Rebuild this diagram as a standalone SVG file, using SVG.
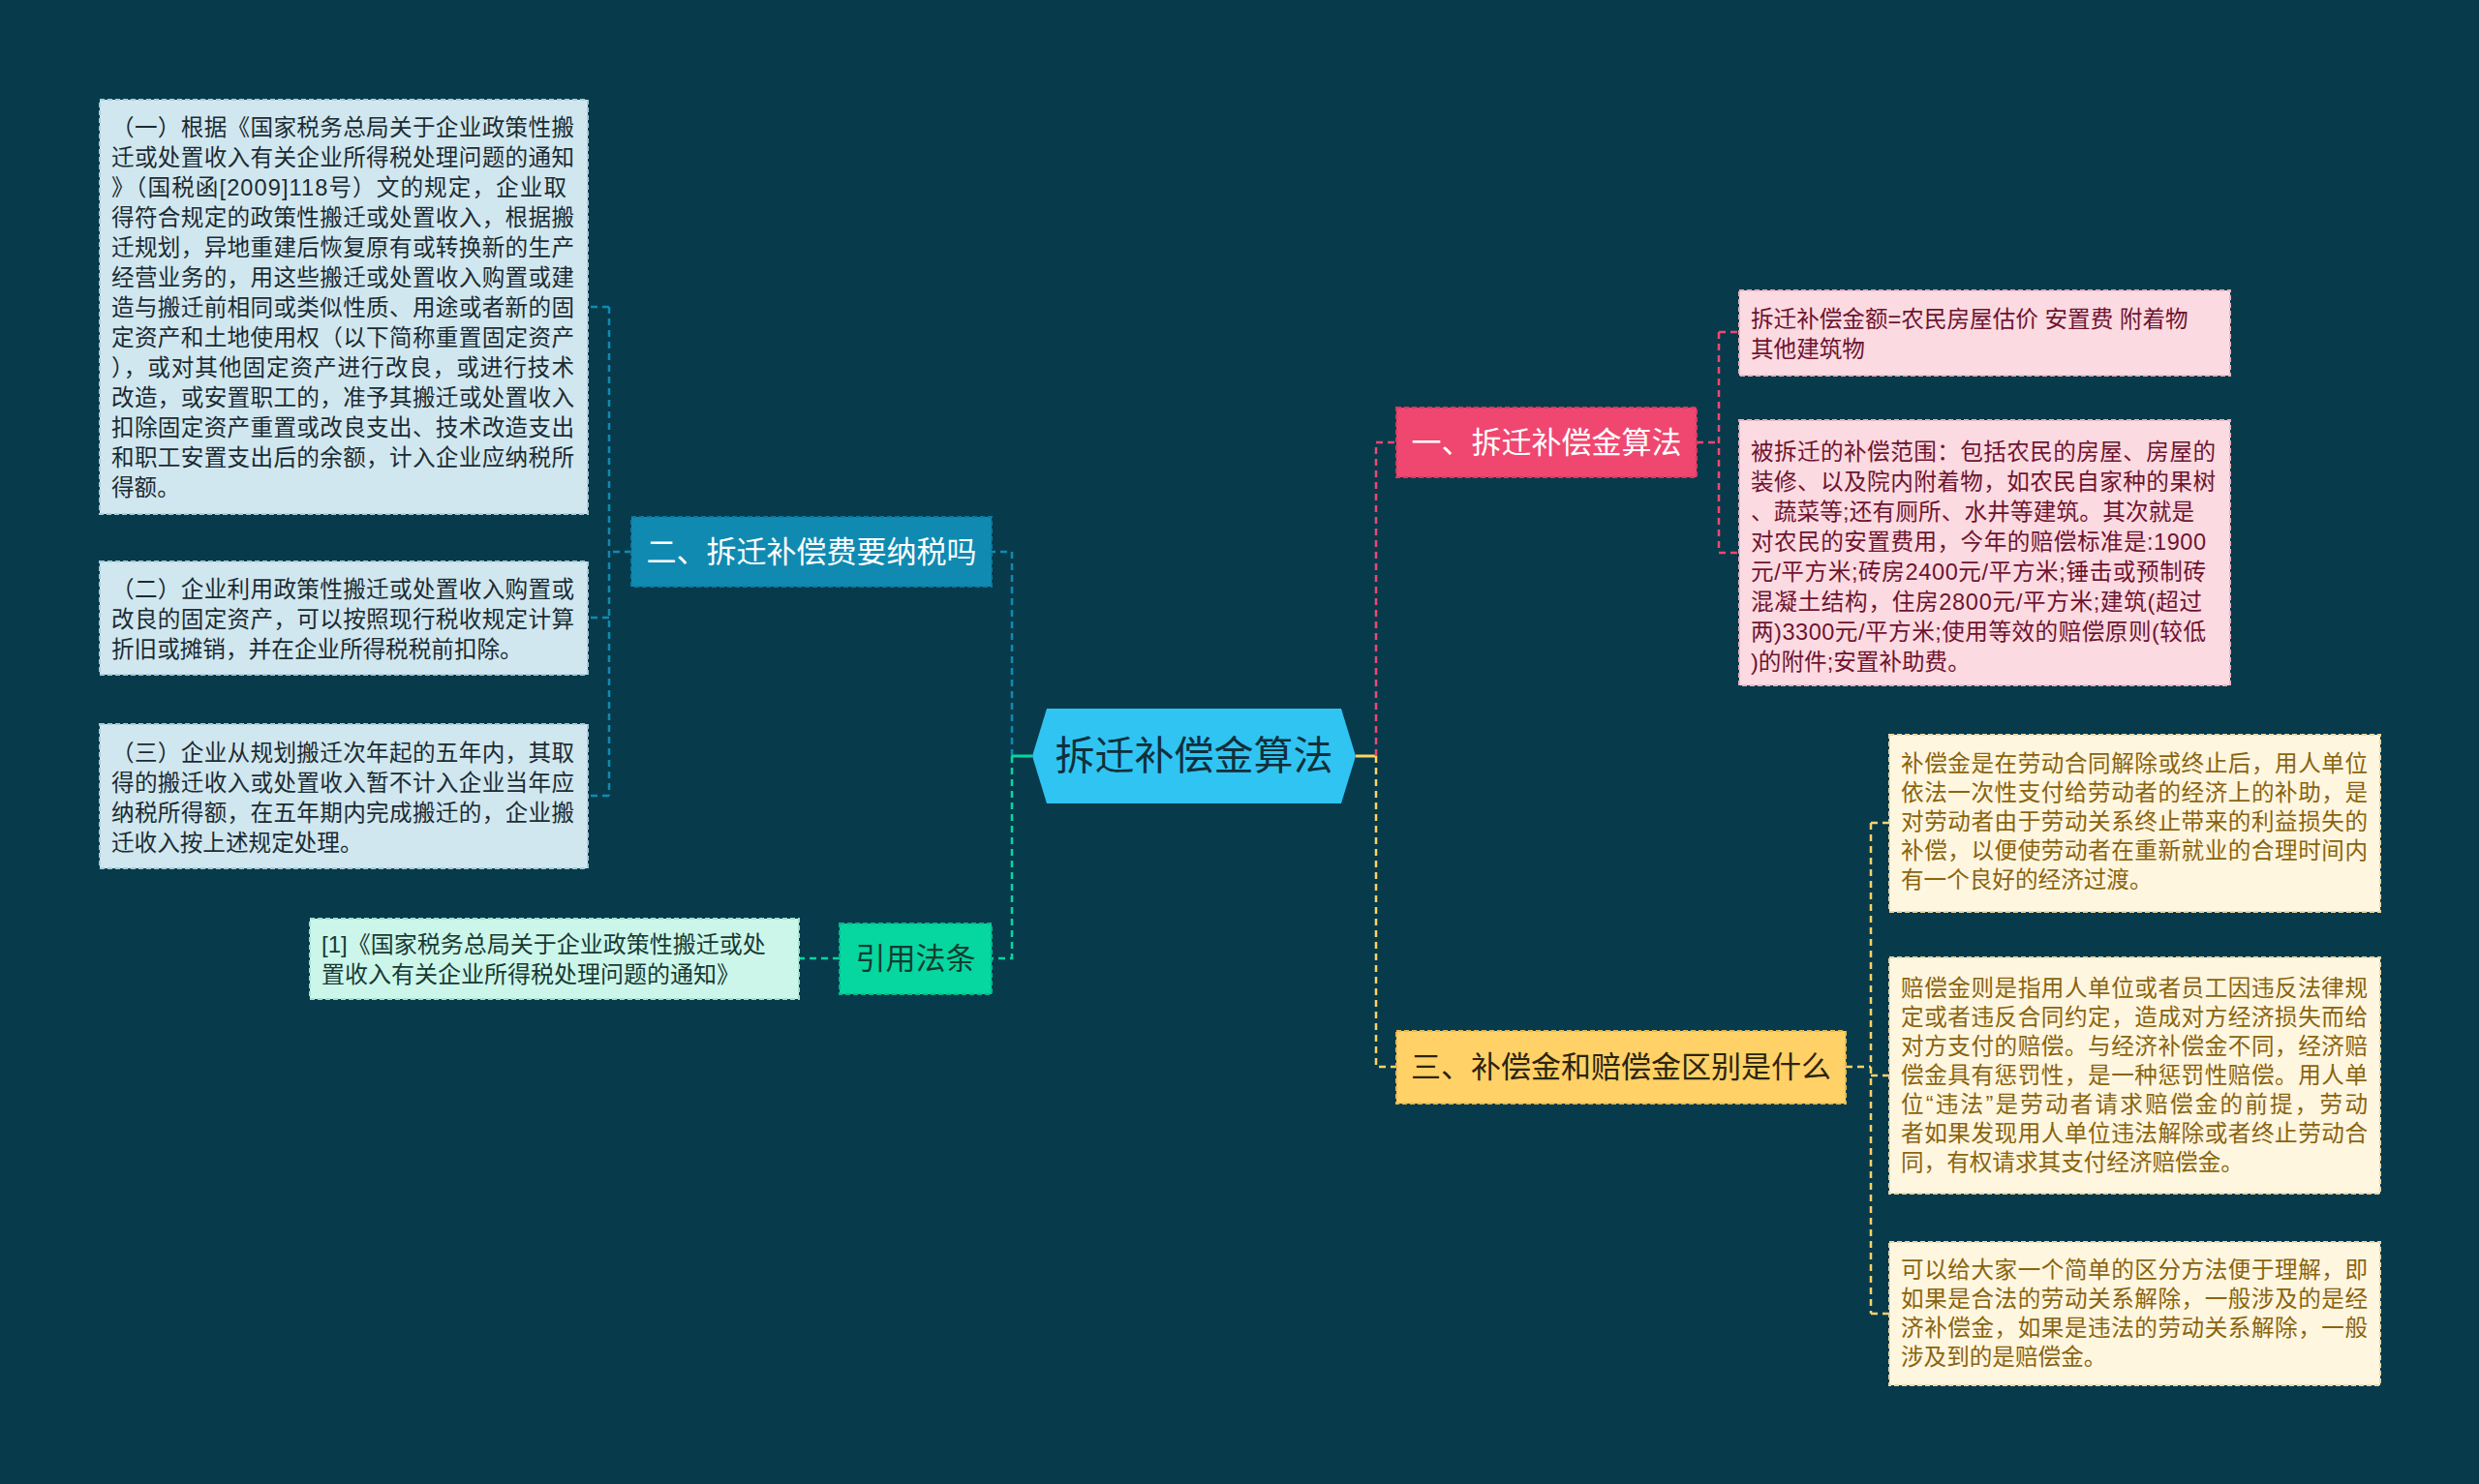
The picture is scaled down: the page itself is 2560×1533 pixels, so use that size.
<svg xmlns="http://www.w3.org/2000/svg" width="2560" height="1533" viewBox="0 0 2560 1533">
<style>
text{font-family:"Liberation Sans","Noto Sans CJK SC",sans-serif;}
.bt{font-size:23.6px;}
.lb{fill:#1c2b33;}
.pk{fill:#6e1430;}
.yl{fill:#8a6410;}
.mt{fill:#173a33;}
.hd{font-size:31px;text-anchor:middle;}
.c{fill:none;stroke-width:2.5;stroke-dasharray:7 5;}
</style>
<rect width="2560" height="1533" fill="#073b4c"/>
<g id="connectors">
<path class="c" stroke="#118ab2" d="M1045 781V570H1024"/>
<path class="c" stroke="#06d6a0" d="M1045 781V990H1024"/>
<path fill="none" stroke="#06d6a0" stroke-width="3" d="M1066 781H1045"/>
<path class="c" stroke="#118ab2" d="M652 570H629M629 317V822M629 317H607M629 638H607M629 822H607"/>
<path class="c" stroke="#06d6a0" d="M867 990H825"/>
<path fill="none" stroke="#ffd166" stroke-width="3" d="M1400 781H1421"/>
<path class="c" stroke="#ef476f" d="M1421 781V457H1442"/>
<path class="c" stroke="#ffd166" d="M1421 781V1102H1442"/>
<path class="c" stroke="#ef476f" d="M1752 457H1775M1775 343V571M1775 343H1796M1775 571H1796"/>
<path class="c" stroke="#ffd166" d="M1906 1102H1932M1932 850V1357M1932 850H1951M1932 1111H1951M1932 1357H1951"/>
</g>
<g id="root">
<polygon points="1066,781 1081,732 1385,732 1400,781 1385,830 1081,830" fill="#30c4f2"/>
<text x="1233" y="795" font-size="41" text-anchor="middle" fill="#10303b">拆迁补偿金算法</text>
</g>
<g id="n2">
<rect x="652" y="534" width="372" height="72" fill="#118ab2" stroke="#0d7aa0" stroke-width="2" stroke-dasharray="5 3"/>
<text class="hd" x="838" y="581" fill="#ffffff">二、拆迁补偿费要纳税吗</text>
</g>
<g id="n2a">
<rect x="103" y="103" width="504" height="428" fill="#d0e7ef" stroke="#a9cbd8" stroke-width="2" stroke-dasharray="5 3"/>
<text class="bt lb">
<tspan x="115" y="140" textLength="478">（一）根据《国家税务总局关于企业政策性搬</tspan>
<tspan x="115" y="171" textLength="478">迁或处置收入有关企业所得税处理问题的通知</tspan>
<tspan x="115" y="202" textLength="470">》（国税函[2009]118号）文的规定，企业取</tspan>
<tspan x="115" y="233" textLength="478">得符合规定的政策性搬迁或处置收入，根据搬</tspan>
<tspan x="115" y="264" textLength="478">迁规划，异地重建后恢复原有或转换新的生产</tspan>
<tspan x="115" y="295" textLength="478">经营业务的，用这些搬迁或处置收入购置或建</tspan>
<tspan x="115" y="326" textLength="478">造与搬迁前相同或类似性质、用途或者新的固</tspan>
<tspan x="115" y="357" textLength="478">定资产和土地使用权（以下简称重置固定资产</tspan>
<tspan x="115" y="388" textLength="478">），或对其他固定资产进行改良，或进行技术</tspan>
<tspan x="115" y="419" textLength="478">改造，或安置职工的，准予其搬迁或处置收入</tspan>
<tspan x="115" y="450" textLength="478">扣除固定资产重置或改良支出、技术改造支出</tspan>
<tspan x="115" y="481" textLength="478">和职工安置支出后的余额，计入企业应纳税所</tspan>
<tspan x="115" y="512">得额。</tspan>
</text>
</g>
<g id="n2b">
<rect x="103" y="580" width="504" height="117" fill="#d0e7ef" stroke="#a9cbd8" stroke-width="2" stroke-dasharray="5 3"/>
<text class="bt lb">
<tspan x="115" y="617" textLength="478">（二）企业利用政策性搬迁或处置收入购置或</tspan>
<tspan x="115" y="648" textLength="478">改良的固定资产，可以按照现行税收规定计算</tspan>
<tspan x="115" y="679">折旧或摊销，并在企业所得税税前扣除。</tspan>
</text>
</g>
<g id="n2c">
<rect x="103" y="748" width="504" height="149" fill="#d0e7ef" stroke="#a9cbd8" stroke-width="2" stroke-dasharray="5 3"/>
<text class="bt lb">
<tspan x="115" y="786" textLength="478">（三）企业从规划搬迁次年起的五年内，其取</tspan>
<tspan x="115" y="817" textLength="478">得的搬迁收入或处置收入暂不计入企业当年应</tspan>
<tspan x="115" y="848" textLength="478">纳税所得额，在五年期内完成搬迁的，企业搬</tspan>
<tspan x="115" y="879">迁收入按上述规定处理。</tspan>
</text>
</g>
<g id="n4">
<rect x="867" y="954" width="157" height="73" fill="#06d6a0" stroke="#05b888" stroke-width="2" stroke-dasharray="5 3"/>
<text class="hd" x="945.5" y="1001" fill="#0f3d30">引用法条</text>
</g>
<g id="n4a">
<rect x="320" y="949" width="505" height="83" fill="#cdf6ea" stroke="#9fe0cd" stroke-width="2" stroke-dasharray="5 3"/>
<text class="mt" font-size="24">
<tspan x="332" y="984">[1]《国家税务总局关于企业政策性搬迁或处</tspan>
<tspan x="332" y="1015">置收入有关企业所得税处理问题的通知》</tspan>
</text>
</g>
<g id="n1">
<rect x="1442" y="421" width="310" height="72" fill="#ef476f" stroke="#d63a60" stroke-width="2" stroke-dasharray="5 3"/>
<text class="hd" x="1597" y="468" fill="#ffffff">一、拆迁补偿金算法</text>
</g>
<g id="n1a">
<rect x="1796" y="300" width="507" height="88" fill="#fcdae1" stroke="#e9b3c0" stroke-width="2" stroke-dasharray="5 3"/>
<text class="bt pk">
<tspan x="1808" y="338">拆迁补偿金额=农民房屋估价 安置费 附着物</tspan>
<tspan x="1808" y="369">其他建筑物</tspan>
</text>
</g>
<g id="n1b">
<rect x="1796" y="434" width="507" height="274" fill="#fcdae1" stroke="#e9b3c0" stroke-width="2" stroke-dasharray="5 3"/>
<text class="bt pk">
<tspan x="1808" y="475" textLength="480">被拆迁的补偿范围：包括农民的房屋、房屋的</tspan>
<tspan x="1808" y="506" textLength="480">装修、以及院内附着物，如农民自家种的果树</tspan>
<tspan x="1808" y="537" textLength="458">、蔬菜等;还有厕所、水井等建筑。其次就是</tspan>
<tspan x="1808" y="568" textLength="470">对农民的安置费用，今年的赔偿标准是:1900</tspan>
<tspan x="1808" y="599" textLength="470">元/平方米;砖房2400元/平方米;锤击或预制砖</tspan>
<tspan x="1808" y="630" textLength="466">混凝土结构，住房2800元/平方米;建筑(超过</tspan>
<tspan x="1808" y="661" textLength="470">两)3300元/平方米;使用等效的赔偿原则(较低</tspan>
<tspan x="1808" y="692">)的附件;安置补助费。</tspan>
</text>
</g>
<g id="n3">
<rect x="1442" y="1065" width="464" height="75" fill="#ffd166" stroke="#e8b94e" stroke-width="2" stroke-dasharray="5 3"/>
<text class="hd" x="1674" y="1113" fill="#2b2410">三、补偿金和赔偿金区别是什么</text>
</g>
<g id="n3a">
<rect x="1951" y="759" width="507" height="183" fill="#fff6df" stroke="#e8d7a8" stroke-width="2" stroke-dasharray="5 3"/>
<text class="bt yl">
<tspan x="1963" y="797" textLength="482">补偿金是在劳动合同解除或终止后，用人单位</tspan>
<tspan x="1963" y="827" textLength="482">依法一次性支付给劳动者的经济上的补助，是</tspan>
<tspan x="1963" y="857" textLength="482">对劳动者由于劳动关系终止带来的利益损失的</tspan>
<tspan x="1963" y="887" textLength="482">补偿，以便使劳动者在重新就业的合理时间内</tspan>
<tspan x="1963" y="917">有一个良好的经济过渡。</tspan>
</text>
</g>
<g id="n3b">
<rect x="1951" y="989" width="507" height="244" fill="#fff6df" stroke="#e8d7a8" stroke-width="2" stroke-dasharray="5 3"/>
<text class="bt yl">
<tspan x="1963" y="1029" textLength="482">赔偿金则是指用人单位或者员工因违反法律规</tspan>
<tspan x="1963" y="1059" textLength="482">定或者违反合同约定，造成对方经济损失而给</tspan>
<tspan x="1963" y="1089" textLength="482">对方支付的赔偿。与经济补偿金不同，经济赔</tspan>
<tspan x="1963" y="1119" textLength="482">偿金具有惩罚性，是一种惩罚性赔偿。用人单</tspan>
<tspan x="1963" y="1149" textLength="482">位“违法”是劳动者请求赔偿金的前提，劳动</tspan>
<tspan x="1963" y="1179" textLength="482">者如果发现用人单位违法解除或者终止劳动合</tspan>
<tspan x="1963" y="1209">同，有权请求其支付经济赔偿金。</tspan>
</text>
</g>
<g id="n3c">
<rect x="1951" y="1283" width="507" height="148" fill="#fff6df" stroke="#e8d7a8" stroke-width="2" stroke-dasharray="5 3"/>
<text class="bt yl">
<tspan x="1963" y="1320" textLength="482">可以给大家一个简单的区分方法便于理解，即</tspan>
<tspan x="1963" y="1350" textLength="482">如果是合法的劳动关系解除，一般涉及的是经</tspan>
<tspan x="1963" y="1380" textLength="482">济补偿金，如果是违法的劳动关系解除，一般</tspan>
<tspan x="1963" y="1410">涉及到的是赔偿金。</tspan>
</text>
</g>
</svg>
